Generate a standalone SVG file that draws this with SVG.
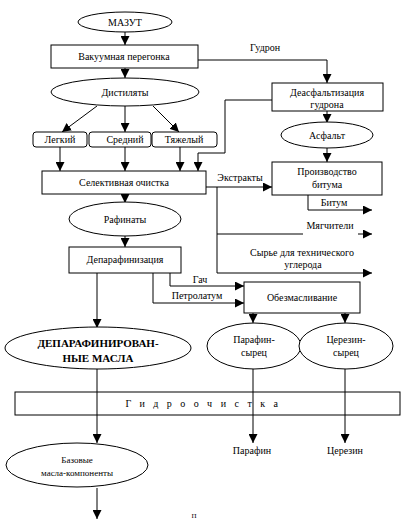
<svg xmlns="http://www.w3.org/2000/svg" width="410" height="519" viewBox="0 0 410 519">
<defs>
<style>
.s{fill:#fff;stroke:#000;stroke-width:1}
.l{fill:none;stroke:#000;stroke-width:1}
.t{font-family:"Liberation Serif","Times New Roman",serif;font-size:10px;fill:#000;text-anchor:middle}
.b{font-weight:bold;font-size:11px}
</style>
<marker id="a" viewBox="0 0 10 10" refX="10" refY="5" markerWidth="9" markerHeight="9" markerUnits="userSpaceOnUse" orient="auto">
<path d="M0,0L10,5L0,10z" fill="#000"/>
</marker>
</defs>
<rect width="410" height="519" fill="#fff"/>
<g id="connectors">
<path class="l" d="M125,32V45" marker-end="url(#a)"/>
<path class="l" d="M125,68V78" marker-end="url(#a)"/>
<path class="l" d="M198,60H327V83" marker-end="url(#a)"/>
<path class="l" d="M97,106L62,132" marker-end="url(#a)"/>
<path class="l" d="M125,106V132" marker-end="url(#a)"/>
<path class="l" d="M153,106L179,132" marker-end="url(#a)"/>
<path class="l" d="M60,147V171" marker-end="url(#a)"/>
<path class="l" d="M125,147V171" marker-end="url(#a)"/>
<path class="l" d="M180,147V171" marker-end="url(#a)"/>
<path class="l" d="M272,100H225V153H198V171" marker-end="url(#a)"/>
<path class="l" d="M327,111V123" marker-end="url(#a)"/>
<path class="l" d="M327,148V162" marker-end="url(#a)"/>
<path class="l" d="M206,187H272" marker-end="url(#a)"/>
<path class="l" d="M217,187V273H372" marker-end="url(#a)"/>
<path class="l" d="M217,234H303"/>
<path class="l" d="M358,234H372" marker-end="url(#a)"/>
<path class="l" d="M308,195V210H372" marker-end="url(#a)"/>
<path class="l" d="M125,194V203" marker-end="url(#a)"/>
<path class="l" d="M125,236V247" marker-end="url(#a)"/>
<path class="l" d="M97,273V328" marker-end="url(#a)"/>
<path class="l" d="M170,273V286H244" marker-end="url(#a)"/>
<path class="l" d="M153,273V303H244" marker-end="url(#a)"/>
<path class="l" d="M253,313V323" marker-end="url(#a)"/>
<path class="l" d="M345,313V323" marker-end="url(#a)"/>
<path class="l" d="M97,369V443" marker-end="url(#a)"/>
<path class="l" d="M97,488V519" marker-end="url(#a)"/>
<path class="l" d="M253,369V443" marker-end="url(#a)"/>
<path class="l" d="M345,369V443" marker-end="url(#a)"/>
</g>
<g id="mazut"><ellipse class="s" cx="125" cy="22" rx="47" ry="10"/><text class="t" x="125" y="26">МАЗУТ</text></g>
<g id="vacuum"><rect class="s" x="51" y="45" width="147" height="23"/><text class="t" x="124" y="60">Вакуумная перегонка</text></g>
<g id="gudron-label"><text class="t" x="265" y="51">Гудрон</text></g>
<g id="distillates"><ellipse class="s" cx="125" cy="92" rx="74" ry="14"/><text class="t" x="125" y="96">Дистиляты</text></g>
<g id="light"><rect class="s" x="33" y="132" width="54" height="15" rx="3"/><text class="t" x="60" y="143">Легкий</text></g>
<g id="medium"><rect class="s" x="89" y="132" width="62" height="15" rx="3"/><text class="t" x="125" y="143">Средний</text></g>
<g id="heavy"><rect class="s" x="152" y="132" width="65" height="15" rx="3"/><text class="t" x="184" y="143">Тяжелый</text></g>
<g id="deasph"><rect class="s" x="272" y="83" width="111" height="28"/><text class="t" x="327" y="96">Деасфальтизация</text><text class="t" x="327" y="108">гудрона</text></g>
<g id="asphalt"><ellipse class="s" cx="327" cy="135" rx="46" ry="13"/><text class="t" x="327" y="139">Асфальт</text></g>
<g id="selective"><rect class="s" x="42" y="171" width="164" height="23"/><text class="t" x="124" y="186">Селективная очистка</text></g>
<g id="bitumen-prod"><rect class="s" x="272" y="162" width="110" height="33"/><text class="t" x="327" y="175">Производство</text><text class="t" x="327" y="188">битума</text></g>
<g id="labels-right">
<text class="t" x="240" y="181">Экстракты</text>
<text class="t" x="334" y="206">Битум</text>
<text class="t" x="330" y="229">Мягчители</text>
<text class="t" x="302" y="256">Сырье для технического</text>
<text class="t" x="303" y="268">углерода</text>
<text class="t" x="200" y="283">Гач</text>
<text class="t" x="197" y="299">Петролатум</text>
</g>
<g id="raffinates"><ellipse class="s" cx="125" cy="219" rx="56" ry="17"/><text class="t" x="125" y="223">Рафинаты</text></g>
<g id="dewax"><rect class="s" x="69" y="247" width="112" height="26"/><text class="t" x="125" y="263">Депарафинизация</text></g>
<g id="deoil"><rect class="s" x="244" y="282" width="116" height="31"/><text class="t" x="302" y="301">Обезмасливание</text></g>
<g id="dewaxed-oils"><ellipse class="s" cx="98" cy="348" rx="93" ry="21"/><text class="t b" x="98" y="347">ДЕПАРАФИНИРОВАН-</text><text class="t b" x="98" y="362">НЫЕ МАСЛА</text></g>
<g id="raw-paraffin"><ellipse class="s" cx="254" cy="346" rx="47" ry="23"/><text class="t" x="254" y="343">Парафин-</text><text class="t" x="254" y="356">сырец</text></g>
<g id="raw-ceresin"><ellipse class="s" cx="346" cy="346" rx="47" ry="23"/><text class="t" x="346" y="343">Церезин-</text><text class="t" x="346" y="356">сырец</text></g>
<g id="hydro"><rect x="15" y="392" width="385" height="23" fill="none" stroke="#000"/><text class="t" x="206" y="407" style="letter-spacing:8.5px">Гидроочистка</text></g>
<g id="products"><text class="t" x="252" y="454">Парафин</text><text class="t" x="345" y="454">Церезин</text></g>
<g id="base-oils"><ellipse class="s" cx="77" cy="465" rx="71" ry="22"/><text class="t" x="77" y="463" style="font-size:9px">Базовые</text><text class="t" x="77" y="476" style="font-size:9px">масла-компоненты</text></g>
<g id="cut-text"><text class="t" x="194" y="518" style="font-size:7px">П</text></g>
</svg>
